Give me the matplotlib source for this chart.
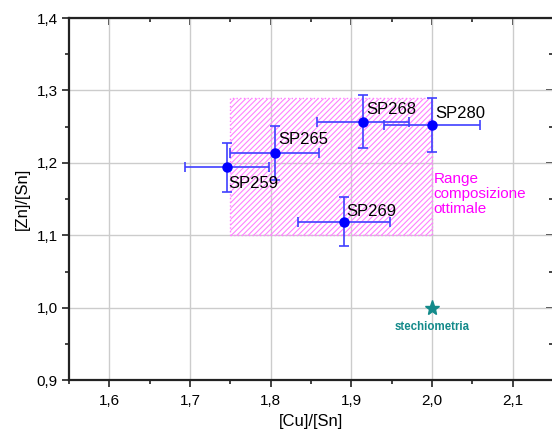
import matplotlib.pyplot as plt
from matplotlib.patches import Rectangle
from matplotlib.ticker import MultipleLocator, FuncFormatter

plt.rcParams['font.family'] = ['Liberation Sans', 'DejaVu Sans']
plt.rcParams['hatch.linewidth'] = 0.8

# campioni
labels = ['SP259', 'SP265', 'SP268', 'SP280', 'SP269']
cu_sn = [1.746, 1.805, 1.914, 2.000, 1.891]
zn_sn = [1.194, 1.214, 1.257, 1.252, 1.119]
cu_err = [0.052, 0.055, 0.057, 0.060, 0.057]
zn_err = [0.034, 0.037, 0.037, 0.037, 0.034]

# range composizione ottimale
range_x = [1.75, 2.0]
range_y = [1.10, 1.29]

stech_x = 2.0
stech_y = 1.0

fig = plt.figure(figsize=(5.52, 4.34), dpi=100)
ax = fig.add_axes([0.125, 0.124, 0.877, 0.8345])

rect = Rectangle((range_x[0], range_y[0]), range_x[1] - range_x[0], range_y[1] - range_y[0],
                 facecolor='none', edgecolor='#ff80ff', hatch='//////', linestyle=':', linewidth=1.0, zorder=1)
ax.add_patch(rect)

ax.errorbar(cu_sn, zn_sn, xerr=cu_err, yerr=zn_err, fmt='none', ecolor='#4040ff',
            elinewidth=1.2, capsize=3.5, capthick=1.2, zorder=3)
ax.plot(cu_sn, zn_sn, 'o', color='#0000ff', markersize=6.5, zorder=4)

offsets = {'SP259': (0.002, -0.012, 'top'), 'SP265': (0.005, 0.008, 'bottom'),
           'SP268': (0.004, 0.006, 'bottom'), 'SP280': (0.004, 0.006, 'bottom'),
           'SP269': (0.003, 0.004, 'bottom')}
for lab, x, y in zip(labels, cu_sn, zn_sn):
    dx, dy, va = offsets[lab]
    ax.text(x + dx, y + dy, lab, fontsize=12, ha='left', va=va, zorder=5)

ax.text(2.002, 1.188, 'Range\ncomposizione\nottimale', color='#ff00ff', fontsize=11,
        ha='left', va='top', linespacing=1.1)

ax.plot(stech_x, stech_y, '*', color='#138a8a', markersize=11, zorder=4)
ax.text(stech_x, stech_y - 0.018, 'stechiometria', color='#138a8a', fontsize=8.3,
        fontweight='bold', ha='center', va='top')

ax.set_xlim(1.55, 2.15)
ax.set_ylim(0.9, 1.4)
fmt = FuncFormatter(lambda v, p: ('%.1f' % v).replace('.', ','))
for axis in (ax.xaxis, ax.yaxis):
    axis.set_major_locator(MultipleLocator(0.1))
    axis.set_minor_locator(MultipleLocator(0.05))
    axis.set_major_formatter(fmt)

ax.grid(True, which='major', color='#cccccc', linewidth=1.0, zorder=0)
ax.set_axisbelow(True)

ax.tick_params(which='both', direction='out', labelsize=11, width=1.2, color='#222222')
ax.tick_params(axis='x', pad=5)
ax.tick_params(axis='y', pad=3)
ax.tick_params(which='major', length=5)
ax.tick_params(which='minor', length=3)

# ticks speculari verso l'interno (alto e destra)
top = ax.secondary_xaxis('top')
right = ax.secondary_yaxis('right')
for sec, axis in ((top, top.xaxis), (right, right.yaxis)):
    axis.set_major_locator(MultipleLocator(0.1))
    axis.set_minor_locator(MultipleLocator(0.05))
    sec.tick_params(which='both', direction='in', labelleft=False, labelright=False,
                    labeltop=False, labelbottom=False, width=1.2, color='#222222')
    sec.tick_params(which='major', length=5)
    sec.tick_params(which='minor', length=3)
    for s in sec.spines.values():
        s.set_visible(False)

for sp in ['left', 'bottom', 'top']:
    ax.spines[sp].set_linewidth(1.6)
    ax.spines[sp].set_color('#222222')
ax.spines['right'].set_visible(False)

ax.set_xlabel('[Cu]/[Sn]', fontsize=12, labelpad=4)
ax.set_ylabel('[Zn]/[Sn]', fontsize=12, labelpad=5)

fig.savefig('out.png', dpi=100)
